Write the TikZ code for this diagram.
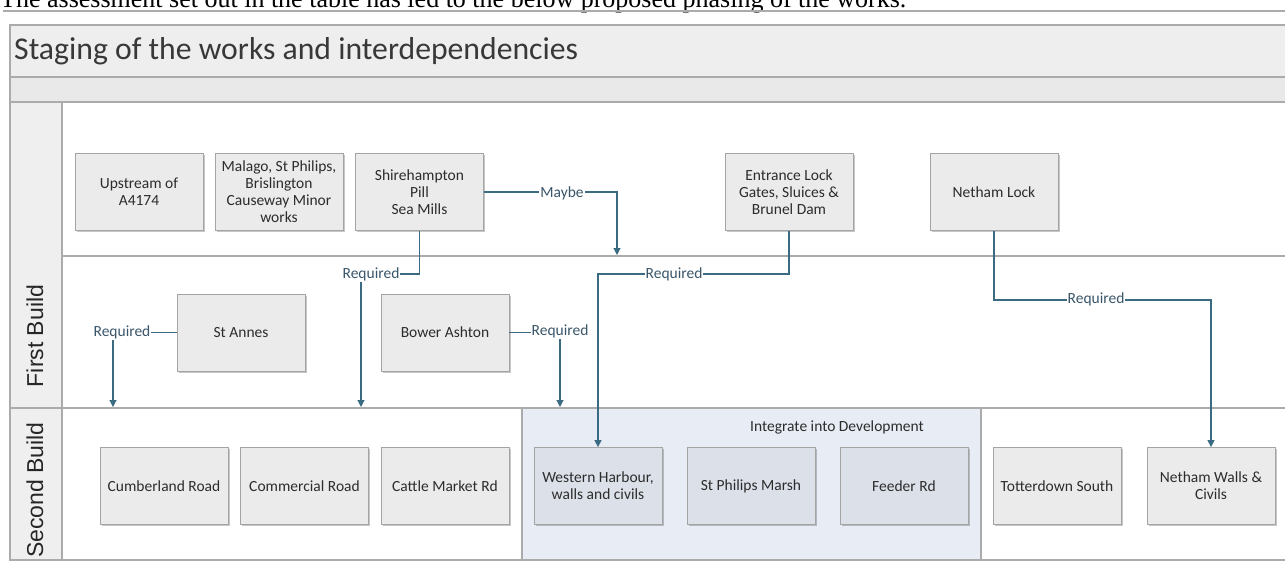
\documentclass[tikz,border=0pt]{standalone}
\usepackage{fontspec}
\setmainfont{Carlito}
\newfontfamily\arialf{Liberation Sans}
\newfontfamily\timesf{Liberation Serif}
\usetikzlibrary{shadows,arrows.meta}
\definecolor{framecol}{HTML}{ABABAB}
\definecolor{titlefill}{HTML}{EEEEEE}
\definecolor{bandfill}{HTML}{E9E9E9}
\definecolor{headfill}{HTML}{EFEFEF}
\definecolor{boxfill}{HTML}{EBEBEB}
\definecolor{boxline}{HTML}{A4A4A4}
\definecolor{iboxfill}{HTML}{DCE0E9}
\definecolor{intfill}{HTML}{E7ECF5}
\definecolor{conncol}{HTML}{3B6B82}
\definecolor{lbltext}{HTML}{3A566A}
\definecolor{boxtext}{HTML}{2C2C2C}
\newcommand\bxfont{\fontsize{15.5}{17}\selectfont}
\tikzset{
  wbox/.style={draw=boxline, fill=boxfill, line width=0.8pt, minimum width=128pt,
    minimum height=77pt, align=center, text=boxtext, font=\bxfont, inner sep=2pt,
    drop shadow={shadow xshift=1.6pt, shadow yshift=-1.8pt, fill=black, opacity=0.22}},
  ibox/.style={wbox, fill=iboxfill},
  lbl/.style={fill=white, inner sep=1pt, text=lbltext, font=\bxfont},
  conn/.style={draw=conncol, line width=1.1pt, -{Triangle[length=7pt,width=7pt]}},
  lanel/.style={draw=framecol, line width=1.2pt},
  lanetitle/.style={rotate=90, font=\arialf\fontsize{23}{26}\selectfont, text=black!85},
}
\begin{document}
\begin{tikzpicture}[x=1pt,y=-1pt]
\useasboundingbox (0,0) rectangle (1285,562);
\begin{scope}
\clip (0,0) rectangle (1285,562);
\fill[white] (0,0) rectangle (1285,562);
% intro text (cut off at top, as in the reference)
\node[anchor=base west, inner sep=0, font=\timesf\fontsize{26}{30}\selectfont] (intro) at (0,7) {The assessment set out in the table has led to the below proposed phasing of the works.};
\draw[framecol, line width=1.4pt] (3,11) -- (1290,11);
% frame
\filldraw[fill=titlefill, lanel] (10,25) rectangle (1295,77);
\filldraw[fill=bandfill, lanel] (10,77) rectangle (1295,102);
\filldraw[fill=white, lanel] (10,102) rectangle (1295,560);
\filldraw[fill=headfill, lanel] (10,102) rectangle (62,560);
\draw[lanel] (62,256) -- (1295,256);
\draw[lanel] (10,408) -- (1295,408);
\filldraw[fill=intfill, lanel] (522,408) rectangle (981,560);
\node[anchor=base west, inner sep=0, font=\fontsize{31.7}{34}\selectfont, text=black!78] (title) at (14,59) {Staging of the works and interdependencies};
\node[lanetitle] (fb) at (35,336) {First Build};
\node[lanetitle] (sb) at (35,490) {Second Build};
\node[font=\bxfont, text=boxtext] (intg) at (837,427) {Integrate into Development};
% top row
\node[wbox] (up) at (139,192) {Upstream of\\A4174};
\node[wbox] (mal) at (279,192) {Malago, St Philips,\\Brislington\\Causeway Minor\\works};
\node[wbox] (shi) at (419.5,192) {Shirehampton\\Pill\\Sea Mills};
\node[wbox] (ent) at (789,192) {Entrance Lock\\Gates, Sluices \&\\Brunel Dam};
\node[wbox] (net) at (994,192) {Netham Lock};
% middle row
\node[wbox] (sta) at (241,332.5) {St Annes};
\node[wbox] (bow) at (445,332.5) {Bower Ashton};
% bottom row
\node[wbox] (cum) at (164,486) {Cumberland Road};
\node[wbox] (com) at (304.5,486) {Commercial Road};
\node[wbox] (cat) at (445,486) {Cattle Market Rd};
\node[ibox] (wes) at (598,486) {Western Harbour,\\walls and civils};
\node[ibox] (spm) at (751,486) {St Philips Marsh};
\node[ibox] (fee) at (904,486) {Feeder Rd};
\node[wbox] (tot) at (1057,486) {Totterdown South};
\node[wbox] (nw) at (1211,486) {Netham  Walls \&\\Civils};
% free ends
\coordinate (mayT) at (617,255);
\coordinate (fb1) at (113,407);
\coordinate (fb2) at (361,407);
\coordinate (fb3) at (560,407);
% connectors
\draw[conn] (shi.east) -| (mayT);
\draw[conn] (shi.south) |- (361,274) -- (fb2);
\draw[conn] (ent.south) |- (700,274) -| (wes.north);
\draw[conn] (net.south) |- (1100,300) -| (nw.north);
\draw[conn] (sta.west) -| (fb1);
\draw[conn] (bow.east) -| (fb3);
% labels
\node[lbl] (lmay) at (562,193) {Maybe};
\node[lbl] (lreq1) at (371,274) {Required};
\node[lbl] (lreq2) at (674,274) {Required};
\node[lbl] (lreq3) at (1096,299) {Required};
\node[lbl] (lreq4) at (122,332.5) {Required};
\node[lbl] (lreq5) at (560,331) {Required};
\end{scope}
\end{tikzpicture}
\end{document}
